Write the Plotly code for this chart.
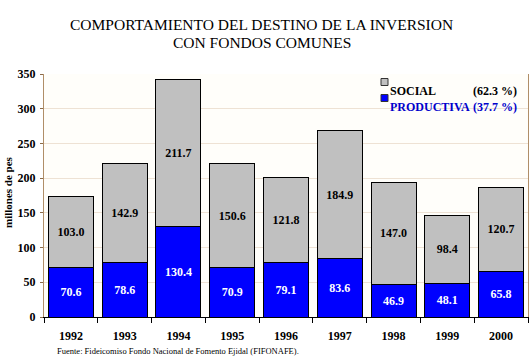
import plotly.graph_objects as go

years = ["1992", "1993", "1994", "1995", "1996", "1997", "1998", "1999", "2000"]
productiva = [70.6, 78.6, 130.4, 70.9, 79.1, 83.6, 46.9, 48.1, 65.8]
social = [103.0, 142.9, 211.7, 150.6, 121.8, 184.9, 147.0, 98.4, 120.7]
series_names = ["SOCIAL", "PRODUCTIVA"]
series_pct = ["(62.3 %)", "(37.7 %)"]

SERIF = "Liberation Serif, Times New Roman, serif"
GRAY = "#C0C0C0"
BLUE = "#0000FF"
LBLUE = "#0000CC"

# plot area in pixels: x 44..528, y 74..317
L, R, T, B = 44, 528, 74, 317
W, H = 532, 364
def px(x):
    return (x - L) / (R - L)
def py(y):
    return (B - y) / (B - T)

fig = go.Figure()
fig.add_trace(go.Bar(
    x=years, y=productiva, name=series_names[1],
    marker=dict(color=BLUE, line=dict(color="black", width=1)),
    text=[f"{v:.1f}" for v in productiva], textposition="inside",
    insidetextanchor="middle",
    textfont=dict(family=SERIF, size=12, color="white", weight="bold"),
    hoverinfo="skip",
))
fig.add_trace(go.Bar(
    x=years, y=social, name=series_names[0],
    marker=dict(color=GRAY, line=dict(color="black", width=1)),
    text=[f"{v:.1f}" for v in social], textposition="inside",
    insidetextanchor="middle",
    textfont=dict(family=SERIF, size=12, color="black", weight="bold"),
    hoverinfo="skip",
))

fig.update_layout(
    width=W, height=H,
    margin=dict(l=L, r=W - R, t=T, b=H - B, autoexpand=False),
    barmode="stack", bargap=0.165,
    paper_bgcolor="white", plot_bgcolor="#FFFEFA",
    font=dict(family=SERIF, color="black"),
    showlegend=False,
    uniformtext=dict(mode="show", minsize=8),
)
fig.update_xaxes(
    type="category", tickson="boundaries", ticks="outside", ticklen=5,
    tickcolor="black", showline=True, linecolor="black", linewidth=1,
    tickfont=dict(family=SERIF, size=12, weight="bold"), showgrid=False,
    automargin=False, ticklabelstandoff=8,
)
fig.update_yaxes(
    range=[0, 350], dtick=50, ticks="outside", ticklen=3, tickcolor="#8B6B4A",
    showline=True, linecolor="#B08E68", linewidth=1, mirror=True,
    gridcolor="#EEE2D4", gridwidth=1,
    tickfont=dict(family=SERIF, size=12, weight="bold"),
    zeroline=False, automargin=False, ticklabelstandoff=2,
)

# Title
fig.add_annotation(text="COMPORTAMIENTO DEL DESTINO DE LA INVERSION",
                   xref="paper", yref="paper", x=px(261), y=py(14),
                   showarrow=False, font=dict(family=SERIF, size=15.5, color="black"))
fig.add_annotation(text="CON FONDOS COMUNES",
                   xref="paper", yref="paper", x=px(262), y=py(32),
                   showarrow=False, font=dict(family=SERIF, size=15.5, color="black"))

# Y axis title
fig.add_annotation(text="millones de pes", textangle=-90,
                   xref="paper", yref="paper", x=px(8), y=py(192),
                   xanchor="center", yanchor="middle",
                   showarrow=False, font=dict(family=SERIF, size=11, color="black", weight="bold"))

# Legend (manual)
rows = [82, 98]
colors = [GRAY, BLUE]
tcolors = ["black", LBLUE]
for i in range(2):
    yc = rows[i]
    fig.add_shape(type="rect", xref="paper", yref="paper",
                  x0=px(381), x1=px(388), y0=py(yc + 3.5), y1=py(yc - 3.5),
                  fillcolor=colors[i], line=dict(color="#333333", width=1))
    fig.add_annotation(text=series_names[i], xref="paper", yref="paper",
                       x=px(388), y=py(yc), xanchor="left", showarrow=False,
                       font=dict(family=SERIF, size=12, color=tcolors[i], weight="bold"))
    fig.add_annotation(text=series_pct[i], xref="paper", yref="paper",
                       x=px(519), y=py(yc), xanchor="right", showarrow=False,
                       font=dict(family=SERIF, size=12, color=tcolors[i], weight="bold"))

# Source
fig.add_annotation(text="Fuente: Fideicomiso Fondo Nacional de Fomento Ejidal (FIFONAFE).",
                   xref="paper", yref="paper", x=px(55), y=py(358), xanchor="left",
                   showarrow=False, font=dict(family=SERIF, size=8.5, color="black"))

fig.write_html("out.html", config={"displayModeBar": False},
               post_script="document.body.style.margin='0px';")
